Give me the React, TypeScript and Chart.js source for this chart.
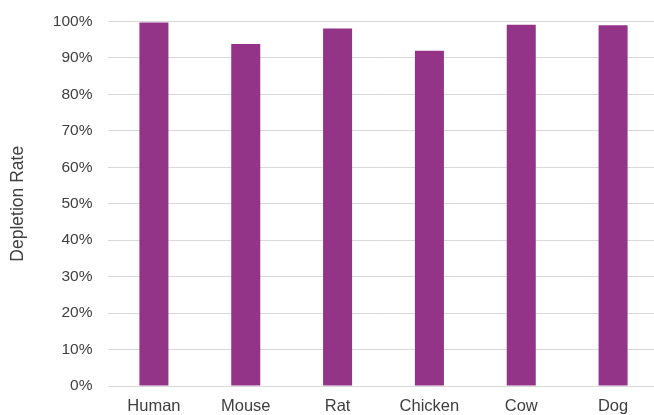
import React, { useEffect, useRef } from "react";
import { Chart, registerables } from "chart.js";

Chart.register(...registerables);

const species: string[] = ["Human", "Mouse", "Rat", "Chicken", "Cow", "Dog"];
const depletionRate: number[] = [0.997, 0.938, 0.981, 0.92, 0.991, 0.99];
const yTicks: number[] = [0, 0.1, 0.2, 0.3, 0.4, 0.5, 0.6, 0.7, 0.8, 0.9, 1.0];

const barColor = "#943489";
const textColor = "#404040";
const gridColor = "#d9d9d9";
const fontFamily = "'Liberation Sans', Arial, sans-serif";

export default function App() {
  const canvasRef = useRef<HTMLCanvasElement | null>(null);

  useEffect(() => {
    const canvas = canvasRef.current;
    if (!canvas) return;
    const chart = new Chart(canvas, {
      type: "bar",
      data: {
        labels: species,
        datasets: [
          {
            label: "Depletion Rate",
            data: depletionRate,
            backgroundColor: barColor,
            borderWidth: 0,
            barPercentage: 1,
            categoryPercentage: 0.316,
          },
        ],
      },
      options: {
        responsive: false,
        animation: false,
        maintainAspectRatio: false,
        layout: { padding: { top: 21.5, bottom: 0, left: 0, right: 1 } },
        plugins: {
          legend: { display: false },
          tooltip: { enabled: false },
        },
        scales: {
          x: {
            grid: { display: false, drawTicks: false },
            border: { display: false },
            ticks: {
              color: textColor,
              font: { family: fontFamily, size: 16.5 },
              padding: 10.5,
              maxRotation: 0,
            },
            afterFit: (scale: any) => {
              scale.height = 29;
            },
          },
          y: {
            min: 0,
            max: 1,
            afterBuildTicks: (scale: any) => {
              scale.ticks = yTicks.map((v) => ({ value: v }));
            },
            grid: { color: gridColor, lineWidth: 1, drawTicks: false },
            border: { display: false },
            ticks: {
              color: textColor,
              font: { family: fontFamily, size: 15.5 },
              padding: 15.5,
              callback: (v: any) => Math.round(Number(v) * 100) + "%",
            },
            title: {
              display: true,
              text: "Depletion Rate",
              color: textColor,
              font: { family: fontFamily, size: 17.5 },
              padding: { top: 8, bottom: 0 },
            },
            afterFit: (scale: any) => {
              scale.width = 108;
              // plot edges are set by the layout padding alone
              scale.paddingTop = 0;
              scale.paddingBottom = 0;
            },
          },
        },
      },
    });
    return () => chart.destroy();
  }, []);

  return (
    <div
      style={{
        position: "fixed",
        left: 0,
        top: 0,
        width: 654,
        height: 415,
        overflow: "hidden",
        background: "#ffffff",
      }}
    >
      <canvas ref={canvasRef} width={660} height={415} style={{ display: "block" }} />
    </div>
  );
}
